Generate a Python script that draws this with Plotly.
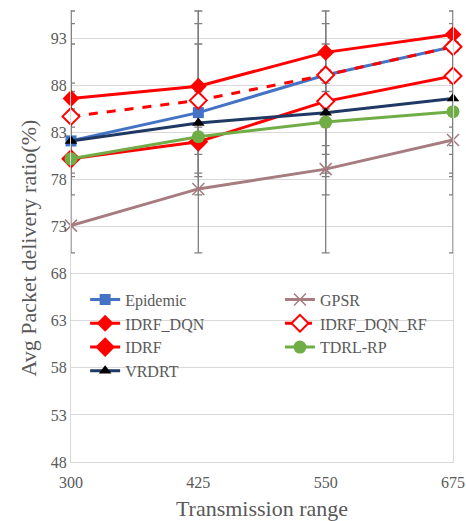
import numpy as np
import plotly.graph_objects as go

x_vals = [300, 425, 550, 675]
y_ticks = [48, 53, 58, 63, 68, 73, 78, 83, 88, 93]

epidemic = [82.1, 85.1, 89.1, 92.1]
gpsr = [73.1, 77.0, 79.1, 82.2]
idrf_dqn = [86.6, 87.9, 91.5, 93.4]
idrf_dqn_rf = [84.7, 86.4, 89.1, 92.1]
idrf = [80.2, 82.0, 86.3, 89.0]
tdrl_rp = [80.2, 82.55, 84.1, 85.2]
vrdrt = [82.1, 84.0, 85.1, 86.6]

FONT = "Liberation Serif"
TXT = "#595959"

series = [
    dict(name="Epidemic", y=epidemic, legend="legend", line=dict(color="#4472C4", width=3),
         marker=dict(symbol="square", size=11, color="#4472C4")),
    dict(name="GPSR", y=gpsr, legend="legend2", line=dict(color="#A67C80", width=3),
         marker=dict(symbol="x-thin", size=12, color="#A67C80",
                     line=dict(color="#A67C80", width=1.5))),
    dict(name="IDRF_DQN", y=idrf_dqn, legend="legend", line=dict(color="#FF0000", width=3),
         marker=dict(symbol="diamond", size=13, color="#FF0000")),
    dict(name="IDRF_DQN_RF", y=idrf_dqn_rf, legend="legend2",
         line=dict(color="#FF0000", width=3, dash="dash"),
         marker=dict(symbol="diamond", size=13, color="white",
                     line=dict(color="#FF0000", width=2))),
    dict(name="IDRF", y=idrf, legend="legend", line=dict(color="#FF0000", width=3),
         marker=dict(symbol="diamond", size=13,
                     color=["#FF0000", "#FF0000", "white", "white"],
                     line=dict(color="#FF0000", width=2))),
    dict(name="TDRL-RP", y=tdrl_rp, legend="legend2", line=dict(color="#70AD47", width=3),
         marker=dict(symbol="circle", size=13, color="#70AD47")),
    dict(name="VRDRT", y=vrdrt, legend="legend", line=dict(color="#1F3864", width=3),
         marker=dict(symbol="triangle-up", size=11, color="black")),
]

fig = go.Figure()

# Excel-style standard deviation error bars (centred on the series mean, +/- 2 SD)
for s in series:
    arr = np.array(s["y"], dtype=float)
    m = arr.mean()
    sd = arr.std(ddof=1)
    fig.add_trace(go.Scatter(
        x=x_vals, y=[m] * len(x_vals), mode="markers",
        marker=dict(size=1, color="rgba(0,0,0,0)"),
        error_y=dict(type="constant", value=2 * sd, color="#7F7F7F",
                     thickness=1.3, width=4),
        showlegend=False, hoverinfo="skip"))

for s in series:
    fig.add_trace(go.Scatter(
        x=x_vals, y=s["y"], name=s["name"], mode="lines+markers",
        line=s["line"], marker=s["marker"], cliponaxis=False, legend=s["legend"]))

legend_common = dict(orientation="v", yanchor="top", xanchor="left",
                     font=dict(family=FONT, size=16, color=TXT),
                     bgcolor="rgba(0,0,0,0)", itemsizing="trace",
                     tracegroupgap=0)

fig.update_layout(
    width=466, height=521,
    margin=dict(l=71, r=13, t=10, b=59, autoexpand=False),
    plot_bgcolor="white", paper_bgcolor="white",
    font=dict(family=FONT, color=TXT, size=16),
    showlegend=True,
    legend=dict(x=0.037, y=0.397, **legend_common),
    legend2=dict(x=0.547, y=0.397, **legend_common),
    xaxis=dict(range=[299.999, 675.001], tickmode="array", tickvals=x_vals,
               ticktext=[str(v) for v in x_vals], automargin=False,
               showgrid=False, zeroline=False,
               showline=True, linecolor="#D9D9D9", linewidth=1,
               ticks="", ticklabelstandoff=6, ticklabeloverflow="allow",
               tickfont=dict(family=FONT, size=16, color=TXT),
               title=dict(text="Transmission range",
                          font=dict(family=FONT, size=22, color=TXT), standoff=12)),
    yaxis=dict(range=[48, 96], tickmode="array", tickvals=y_ticks,
               ticktext=[str(v) for v in y_ticks], automargin=False,
               showgrid=True, gridcolor="#D9D9D9", gridwidth=1, zeroline=False,
               showline=True, linecolor="#D9D9D9", linewidth=1, mirror=True,
               ticks="", tickfont=dict(family=FONT, size=16, color=TXT)),
    annotations=[dict(text="Avg Packet delivery ratio(%)", textangle=-90,
                      xref="paper", yref="paper", x=-0.112, y=0.473,
                      xanchor="center", yanchor="middle", showarrow=False,
                      font=dict(family=FONT, size=22, color=TXT))],
)

fig.write_html("out.html")
